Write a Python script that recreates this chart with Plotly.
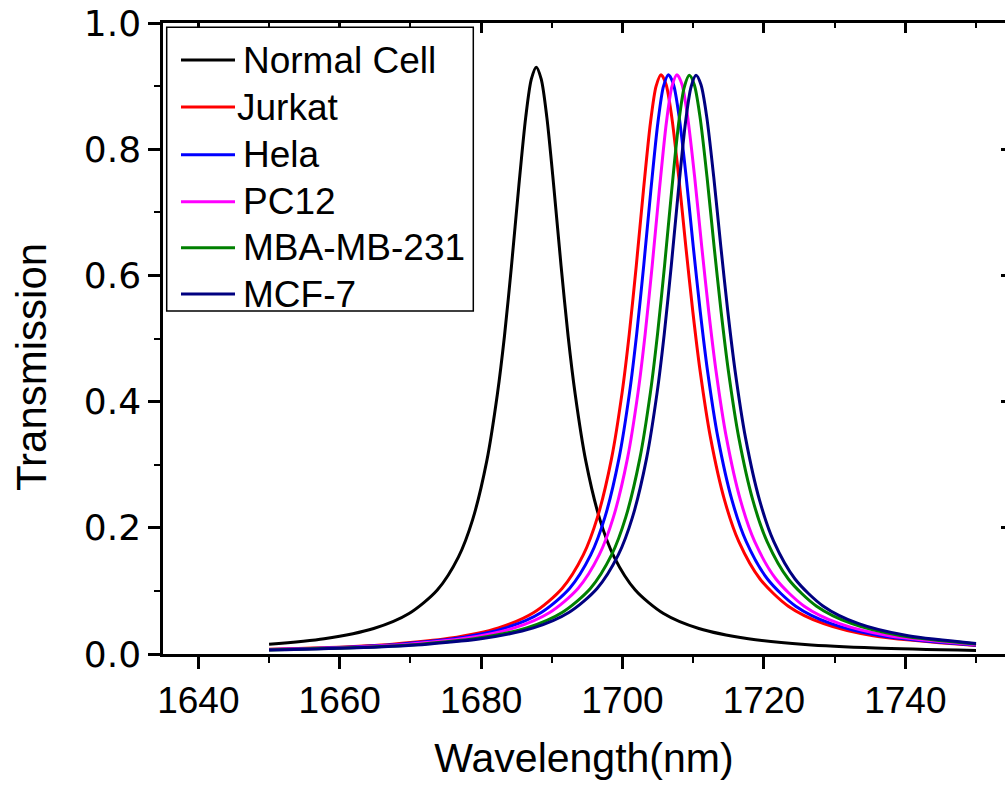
import plotly.graph_objects as go

# ---- data ----
names = ["Normal Cell", "Jurkat", "Hela", "PC12", "MBA-MB-231", "MCF-7"]
colors = ["#000000", "#FF0000", "#0000FF", "#FF00FF", "#008000", "#000080"]

x_normal = [1650, 1657.8, 1664.8, 1669.8, 1673.8, 1676.8, 1678.8, 1680.8, 1682.3, 1683.3,
            1684.3, 1685.3, 1686.3, 1687.1, 1687.8, 1688.5, 1689.3, 1690.3, 1691.3, 1692.3,
            1693.3, 1694.8, 1696.8, 1698.8, 1701.8, 1705.8, 1710.8, 1717.8, 1725.8, 1735.8, 1750]
t_normal = [0.0154, 0.0242, 0.0404, 0.0642, 0.1015, 0.154, 0.213, 0.306, 0.412, 0.504,
            0.616, 0.738, 0.850, 0.911, 0.930, 0.911, 0.850, 0.738, 0.616, 0.504,
            0.412, 0.306, 0.213, 0.154, 0.1015, 0.0642, 0.0404, 0.0242, 0.0152, 0.0096, 0.0057]

x_jurkat = [1650, 1658.45, 1667.45, 1675.45, 1682.45, 1687.45, 1691.45, 1694.45, 1696.45, 1698.45,
            1699.95, 1700.95, 1701.95, 1702.95, 1703.95, 1704.75, 1705.45, 1706.15, 1706.95, 1707.95,
            1708.95, 1709.95, 1710.95, 1712.45, 1714.45, 1716.45, 1719.45, 1723.45, 1728.45, 1735.45, 1750]
t_jurkat = [0.0074, 0.0103, 0.0156, 0.0248, 0.0414, 0.0658, 0.1038, 0.157, 0.2165, 0.310,
            0.415, 0.507, 0.616, 0.734, 0.842, 0.900, 0.918, 0.903, 0.852, 0.756,
            0.646, 0.542, 0.4506, 0.3425, 0.243, 0.178, 0.1189, 0.0758, 0.048, 0.0288, 0.0133]

x_hela = [1650, 1659.5, 1668.5, 1676.5, 1683.5, 1688.5, 1692.5, 1695.5, 1697.5, 1699.5,
          1701.0, 1702.0, 1703.0, 1704.0, 1705.0, 1705.8, 1706.5, 1707.2, 1708.0, 1709.0,
          1710.0, 1711.0, 1712.0, 1713.5, 1715.5, 1717.5, 1720.5, 1724.5, 1729.5, 1736.5, 1750]
t_hela = [0.0071, 0.0103, 0.0156, 0.0248, 0.0414, 0.0658, 0.1038, 0.157, 0.2165, 0.310,
          0.415, 0.507, 0.616, 0.734, 0.842, 0.900, 0.918, 0.903, 0.852, 0.756,
          0.646, 0.542, 0.4506, 0.3425, 0.243, 0.178, 0.1189, 0.0758, 0.048, 0.0288, 0.0139]

x_pc12 = [1650, 1660.7, 1669.7, 1677.7, 1684.7, 1689.7, 1693.7, 1696.7, 1698.7, 1700.7,
          1702.2, 1703.2, 1704.2, 1705.2, 1706.2, 1707.0, 1707.7, 1708.4, 1709.2, 1710.2,
          1711.2, 1712.2, 1713.2, 1714.7, 1716.7, 1718.7, 1721.7, 1725.7, 1730.7, 1737.7, 1750]
t_pc12 = [0.0068, 0.0103, 0.0156, 0.0248, 0.0414, 0.0658, 0.1038, 0.157, 0.2165, 0.310,
          0.415, 0.507, 0.616, 0.734, 0.842, 0.900, 0.918, 0.903, 0.852, 0.756,
          0.646, 0.542, 0.4506, 0.3425, 0.243, 0.178, 0.1189, 0.0758, 0.048, 0.0288, 0.0147]

x_mba = [1650, 1662.45, 1671.45, 1679.45, 1686.45, 1691.45, 1695.45, 1698.45, 1700.45, 1702.45,
         1703.95, 1704.95, 1705.95, 1706.95, 1707.95, 1708.75, 1709.45, 1710.15, 1710.95, 1711.95,
         1712.95, 1713.95, 1714.95, 1716.45, 1718.45, 1720.45, 1723.45, 1727.45, 1732.45, 1739.45, 1750]
t_mba = [0.0064, 0.0103, 0.0156, 0.0248, 0.0414, 0.0658, 0.1038, 0.157, 0.2165, 0.310,
         0.415, 0.507, 0.616, 0.734, 0.842, 0.899, 0.917, 0.902, 0.852, 0.756,
         0.646, 0.542, 0.4506, 0.3425, 0.243, 0.178, 0.1189, 0.0758, 0.048, 0.0288, 0.0160]

x_mcf7 = [1650, 1663.4, 1672.4, 1680.4, 1687.4, 1692.4, 1696.4, 1699.4, 1701.4, 1703.4,
          1704.9, 1705.9, 1706.9, 1707.9, 1708.9, 1709.7, 1710.4, 1711.1, 1711.9, 1712.9,
          1713.9, 1714.9, 1715.9, 1717.4, 1719.4, 1721.4, 1724.4, 1728.4, 1733.4, 1740.4, 1750]
t_mcf7 = [0.0063, 0.0103, 0.0156, 0.0248, 0.0414, 0.0658, 0.1038, 0.157, 0.2165, 0.310,
          0.415, 0.507, 0.616, 0.734, 0.842, 0.899, 0.917, 0.902, 0.852, 0.756,
          0.646, 0.542, 0.4506, 0.3425, 0.243, 0.178, 0.1189, 0.0758, 0.048, 0.0288, 0.0168]

xs = [x_normal, x_jurkat, x_hela, x_pc12, x_mba, x_mcf7]
ts = [t_normal, t_jurkat, t_hela, t_pc12, t_mba, t_mcf7]

x_ticks = [1640, 1660, 1680, 1700, 1720, 1740]
y_ticks = [0.0, 0.2, 0.4, 0.6, 0.8, 1.0]
x_range = [1635, 1754.1]
y_range = [0, 1]

FONT = "Liberation Sans, Arial, sans-serif"
YFONT = "DejaVu Sans, Liberation Sans, sans-serif"

# plot area in pixels (used to place the hand-drawn legend box)
L, R, T, B = 163, 1005, 23, 654
W, H = R - L, B - T


def px(xp):
    return (xp - L) / W


def py(yp):
    return (B - yp) / H


fig = go.Figure()
for name, col, x, t in zip(names, colors, xs, ts):
    fig.add_trace(go.Scatter(x=x, y=t, mode="lines", name=name, showlegend=False,
                             line=dict(color=col, width=3, shape="spline", smoothing=0.8)))

# dummy trace to hold the mirrored (top/right) axes
fig.add_trace(go.Scatter(x=[None], y=[None], xaxis="x2", yaxis="y2",
                         showlegend=False, hoverinfo="skip"))

# legend (box, line samples, labels)
shapes = [dict(type="rect", xref="paper", yref="paper",
               x0=px(166.7), x1=px(473.3), y0=py(311), y1=py(27.3),
               line=dict(color="black", width=1.5), fillcolor="white", layer="above")]
annotations = []
row_y = [60, 107, 154.7, 201.7, 247.7, 294]
text_x = [242, 236, 242, 242, 242, 242]
for name, col, ry, tx in zip(names, colors, row_y, text_x):
    shapes.append(dict(type="line", xref="paper", yref="paper",
                       x0=px(181), x1=px(235), y0=py(ry), y1=py(ry),
                       line=dict(color=col, width=3), layer="above"))
    annotations.append(dict(text=name, xref="paper", yref="paper", x=px(tx), y=py(ry),
                            xanchor="left", yanchor="middle", showarrow=False,
                            font=dict(size=37, family=FONT, color="black"), borderpad=0))

annotations.append(dict(text="Transmission", xref="paper", yref="paper",
                        x=px(31), y=py(367), xanchor="center", yanchor="middle",
                        textangle=-90, showarrow=False,
                        font=dict(size=42, family=FONT, color="black")))

fig.update_layout(
    width=1005, height=785,
    margin=dict(l=L, r=0, t=T, b=785 - B),
    paper_bgcolor="white", plot_bgcolor="white",
    font=dict(family=FONT, color="black", size=36),
    showlegend=False,
    shapes=shapes,
    annotations=annotations,
    xaxis=dict(range=x_range, tickvals=x_ticks, ticktext=[str(v) for v in x_ticks],
               ticks="outside", ticklen=12, tickwidth=2.5, tickcolor="black",
               showline=True, linecolor="black", linewidth=2.5,
               showgrid=False, zeroline=False,
               minor=dict(dtick=10, tick0=1640, ticks="outside", ticklen=6, tickwidth=2, tickcolor="black"),
               tickfont=dict(size=37, family=FONT),
               title=dict(text="Wavelength(nm)", font=dict(size=41, family=FONT), standoff=24)),
    yaxis=dict(range=y_range, tickvals=y_ticks, ticktext=["%.1f" % v for v in y_ticks],
               ticks="outside", ticklen=12, tickwidth=2.5, tickcolor="black",
               showline=True, linecolor="black", linewidth=2.5,
               showgrid=False, zeroline=False,
               minor=dict(dtick=0.1, tick0=0, ticks="outside", ticklen=6, tickwidth=2, tickcolor="black"),
               tickfont=dict(size=36, family=YFONT)),
    xaxis2=dict(overlaying="x", side="top", anchor="y", range=x_range, tickvals=x_ticks,
                showticklabels=False, ticks="inside", ticklen=10, tickwidth=2.5, tickcolor="black",
                showline=True, linecolor="black", linewidth=2.5, showgrid=False, zeroline=False,
                minor=dict(dtick=10, tick0=1640, ticks="inside", ticklen=5, tickwidth=2, tickcolor="black")),
    yaxis2=dict(overlaying="y", side="right", anchor="x", range=y_range, tickvals=y_ticks,
                showticklabels=False, ticks="inside", ticklen=4, tickwidth=2.5, tickcolor="black",
                showline=False, showgrid=False, zeroline=False),
)

fig.write_html("out.html")
